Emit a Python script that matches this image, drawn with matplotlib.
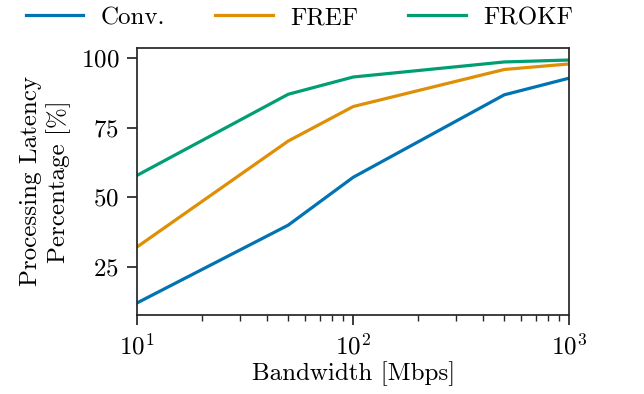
import matplotlib
matplotlib.use("Agg")
import matplotlib.pyplot as plt

# --- datos ---
bandwidth = [10, 50, 100, 500, 1000]
conv = [12.1, 40.0, 57.2, 86.8, 92.8]
fref = [32.2, 70.2, 82.6, 95.9, 97.9]
frokf = [57.9, 87.0, 93.2, 98.6, 99.3]
series_names = ["Conv.", "FREF", "FROKF"]
colores = ["#0173b2", "#de8f05", "#029e73"]

plt.rcParams["font.family"] = "serif"
plt.rcParams["font.serif"] = ["cmr10"]
plt.rcParams["mathtext.fontset"] = "cm"
plt.rcParams["axes.formatter.use_mathtext"] = True
plt.rcParams["font.size"] = 18

fig = plt.figure(figsize=(6.44, 3.94), dpi=100)
ax = fig.add_axes([0.213, 0.2005, 0.671, 0.678])

for nombre, vals, c in zip(series_names, [conv, fref, frokf], colores):
    ax.plot(bandwidth, vals, color=c, linewidth=2.3, label=nombre)

ax.set_xscale("log")
ax.set_xlim(10, 1000)
ax.set_yticks([25, 50, 75, 100])
ax.set_xlabel("Bandwidth [Mbps]", labelpad=2)
ax.set_ylabel("Processing Latency\nPercentage [%]", labelpad=7)

for s in ax.spines.values():
    s.set_color("#262626")
    s.set_linewidth(1.25)
ax.tick_params(which="major", length=7, width=1.25, pad=6, color="#262626")
ax.tick_params(which="minor", length=4.5, width=1.0, pad=6, color="#262626")

fig.legend(loc="upper center", bbox_to_anchor=(0.465, 1.04), ncol=3, frameon=False,
           handlelength=2.3, columnspacing=2.0, handletextpad=0.7)

fig.savefig("out.png", dpi=100)
